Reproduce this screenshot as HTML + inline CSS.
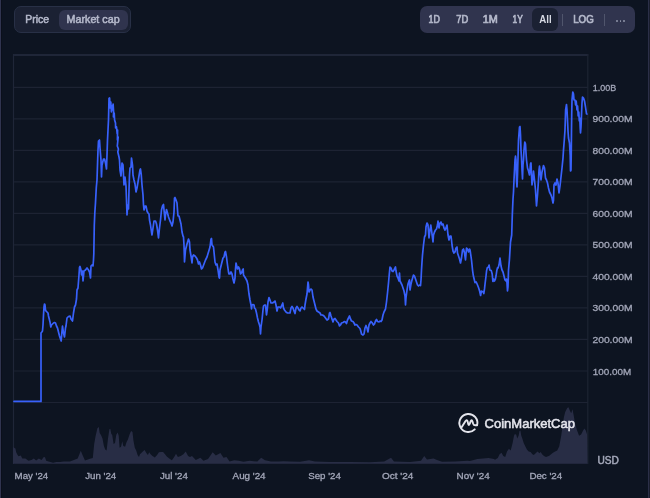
<!DOCTYPE html>
<html><head><meta charset="utf-8">
<style>
html,body{margin:0;padding:0;}
body{width:650px;height:498px;overflow:hidden;background:#0d1421;position:relative;font-family:"Liberation Sans",sans-serif;}
.abs{position:absolute;}
.grp1{left:14px;top:6px;width:115px;height:25px;border:1px solid #283046;border-radius:7px;background:#1b2133;}
.pill1{left:59px;top:10px;width:69px;height:20px;border-radius:6px;background:#30344e;}
.grp2{left:420px;top:6px;width:215px;height:27px;border-radius:7px;background:#30344e;}
.pill2{left:532px;top:8px;width:26px;height:22.5px;border-radius:6px;background:#1b2133;}
.sep{position:absolute;width:1px;height:12px;background:#50556c;top:14px;}
.dot{position:absolute;width:1.5px;height:1.5px;border-radius:1px;background:#8e93a8;top:20px;}
svg text{font-family:"Liberation Sans",sans-serif;}
</style></head>
<body>
<div class="abs" style="left:0;top:0;width:1px;height:498px;background:#30344f"></div>
<div class="abs" style="left:1px;top:0;width:1px;height:498px;background:#0b0f1b"></div>
<div class="abs" style="left:648px;top:0;width:1px;height:498px;background:#2b2f47"></div>
<div class="abs" style="left:649px;top:0;width:1px;height:498px;background:#1a1e2e"></div>
<div class="abs grp1"></div>
<div class="abs pill1"></div>
<div class="abs grp2"></div>
<div class="abs pill2"></div>
<div class="sep" style="left:562px;"></div>
<div class="sep" style="left:604px;"></div>
<div class="dot" style="left:616px;"></div>
<div class="dot" style="left:619.8px;"></div>
<div class="dot" style="left:623.4px;"></div>
<svg class="abs" style="left:0;top:0;will-change:transform" width="650" height="498" viewBox="0 0 650 498">
<line x1="13.5" y1="87.30" x2="588" y2="87.30" stroke="#1d2333" stroke-width="1.2"/>
<line x1="13.5" y1="118.82" x2="588" y2="118.82" stroke="#1d2333" stroke-width="1.2"/>
<line x1="13.5" y1="150.34" x2="588" y2="150.34" stroke="#1d2333" stroke-width="1.2"/>
<line x1="13.5" y1="181.86" x2="588" y2="181.86" stroke="#1d2333" stroke-width="1.2"/>
<line x1="13.5" y1="213.38" x2="588" y2="213.38" stroke="#1d2333" stroke-width="1.2"/>
<line x1="13.5" y1="244.90" x2="588" y2="244.90" stroke="#1d2333" stroke-width="1.2"/>
<line x1="13.5" y1="276.42" x2="588" y2="276.42" stroke="#1d2333" stroke-width="1.2"/>
<line x1="13.5" y1="307.94" x2="588" y2="307.94" stroke="#1d2333" stroke-width="1.2"/>
<line x1="13.5" y1="339.46" x2="588" y2="339.46" stroke="#1d2333" stroke-width="1.2"/>
<line x1="13.5" y1="370.98" x2="588" y2="370.98" stroke="#1d2333" stroke-width="1.2"/>
<line x1="13.5" y1="402.50" x2="588" y2="402.50" stroke="#1d2333" stroke-width="1.2"/>
<line x1="13" y1="55" x2="588.3" y2="55" stroke="#1f2638" stroke-width="1.8"/>
<line x1="13.5" y1="54" x2="13.5" y2="464" stroke="#1f2638" stroke-width="1.2"/>
<line x1="587.8" y1="54" x2="587.8" y2="464" stroke="#1d2333" stroke-width="1.2"/>
<polygon points="13,463.8 13,446.9 15.4,448.5 16.2,452.3 17.3,454.6 18.5,456.2 20.8,455.4 22.3,458.5 25.4,458.5 28.5,460.8 31.5,460 33.8,458.5 36.2,460.4 38.8,458.5 41.5,460 43.8,456.9 45,457.3 46.2,460.8 48.5,461.5 53.1,462.7 56.2,461.9 60,461.9 63.8,461.5 70,461.5 77.7,458.5 80.8,450.8 82.5,455 85,460.5 90,458.8 92.8,457.9 94.2,444 95.5,436.6 97.4,428.3 98.8,427 99.7,433 101.1,435.2 102.5,438.5 103.9,445.9 105.2,449.6 106.6,450.5 108,438.5 109.4,429.2 110.3,428.8 111.3,433.9 112.2,434.8 113.6,444 115,443.1 116.3,434.8 117.7,432.5 118.7,435.7 119.6,447.7 121,446.8 122.3,441.3 123.3,445.9 125.1,446.8 126.5,442.2 127.9,439.4 129.7,433.9 131.1,431.1 132.5,432 133.4,440.3 134.8,447.7 136.2,450.5 137.6,455.1 139,457 140,454.2 142.8,451.4 144.6,450 146.5,453.3 147.9,455.1 149.2,452.3 150.6,454.2 152.5,456 154.8,457.4 157.1,455.1 158.9,452.3 160.8,451.9 163.1,451.9 165,454.2 166.8,456.5 169.6,458.8 171.9,460.2 174.2,457 176,453.7 177.9,457 180.7,456 183.4,454.2 185.7,451.4 188.1,456 190,457 192,456 195.8,460 200.4,457.7 203.5,460.8 208,459 212.7,452.3 215.8,455.4 220.4,453 223.5,457.7 226.5,457 229.6,461.5 234.2,460.3 238.8,460.8 243.5,461.8 249.6,460.8 257.3,461.5 261.2,457.7 265,460.3 271,461.5 278.8,461.5 283.5,461.2 290,461.5 300,461.8 309,460.3 315,461.5 330,462 350,462 370,462.2 384.2,461.5 391,457.7 394,461.5 410,462 421,460.8 424.2,456 427,459.5 433.5,458.5 437,460 442,461.8 455,461.5 467.3,460.8 470,461 477.4,459 488.5,458 494,459 495,459.7 497.8,457.9 499.6,454.2 501.5,452.8 503.3,456 505.2,457 507,451.4 508.9,448.7 510.7,450.5 512.6,443.1 514,435.7 514.9,433.9 516.3,434.8 517.2,438.5 518.6,435.7 519.5,431.1 520.4,430.6 521.3,435.7 522.3,438.5 523.7,443.1 525.5,446.8 526.9,449.6 528.7,451.4 530.6,451.9 532.4,454.2 533.8,455.1 535.7,453.3 537.5,451.4 539.4,453.3 540.7,451.9 542.1,454.2 544,456 546,457 549.3,455.7 552.6,453 554.6,451.7 557.2,450.4 559.2,446.4 561.2,435.8 562.5,426.5 563.9,417.2 565.2,412 567.2,408 568.5,407.3 569.8,410.6 571.2,413.3 572.5,409.3 573.8,415.9 575.1,423.9 577.1,430.5 579.1,435.8 581.1,434.5 583.1,430.5 584.4,428.5 585.8,430.5 587.1,434.5 587.5,463.8" fill="#282d45"/>
<path d="M14,401.4 L41,401.4 L41,333 L41.8,332 L42.5,331 L43,325 L43.5,315 L44,307 L44.5,304 L45,305 L45.5,310 L46,311 L47,312 L48,313 L48.5,316 L49,318 L50,322 L50.8,327 L51.5,325 L52.5,324 L53.5,323 L54.5,322.5 L55.5,323 L56.5,326 L57.5,328 L58.5,332 L59.5,336 L60.5,339 L61.2,341 L61.8,333 L62.5,326 L63.5,333 L64.5,337 L65.5,328 L66,326 L67,318 L68.5,316.5 L70,316 L71,319 L72.5,321 L73.5,313 L74.5,307 L75.5,305 L76.5,299 L77,290 L78,288 L79,275 L79.5,267.5 L80,266.5 L81,270 L81.5,275 L82.5,271 L83,281 L84,271 L85.5,270 L87,268 L88.5,270 L89.5,272 L90.5,278 L91,266 L92,265 L93,266 L93.5,260 L93.8,254 L94.3,225 L94.8,213 L95.5,202.6 L96.3,187.5 L97,180 L97.5,165 L98,150 L98.5,141 L99.5,140 L100,148 L101,160 L101.5,177 L102,165 L103.5,159 L104.5,159 L105.5,163 L106.5,169 L107,155 L107.5,140 L108.5,120 L109,98.5 L109.6,98 L110.2,108 L110.8,102 L111.4,112 L112,106 L112.6,110 L113.1,104 L113.6,112 L113.4,117 L114.2,113 L114.6,120 L115.5,123 L115.6,128 L116.5,127 L117.2,134 L117.6,130 L117.4,140 L118.2,137 L117.3,146 L118.4,149 L117.8,152 L119,157 L119.5,160 L120,170 L121,176 L122,163 L123,165 L123.5,175 L124,185 L125,177 L126,186 L126.5,200 L127,215 L127.8,205 L128.5,209 L129,190 L129.5,175 L130,168 L131,167 L131.5,158 L132.5,165 L133,175 L134,180 L135,184 L136,192 L137,188 L138,182 L139,176 L140,170 L140.5,169 L141.2,174 L142,185 L143,195 L143.5,205 L144,210 L145,206 L146,206 L147,211 L148,213 L149,214 L149.5,220 L150.5,225 L151.5,232 L152,235 L153,228 L154,221 L155.5,221 L156.5,224 L157.5,230 L158.5,238 L159.5,228 L160.5,220 L161.5,210 L162.5,206 L163.5,204.5 L164,210 L165,220 L165.5,215 L166.5,209.5 L167.5,213 L168.5,217 L170,221 L171,223 L172,226 L173,222 L174,212 L174.5,198 L175,197.5 L176,200 L177,203 L177.5,210 L178,216 L179,216 L180,220 L181,224 L182,232 L183,236 L183.5,237 L184,245 L184.5,262 L185.5,250 L187,244 L188.5,239 L189.5,242 L190,250 L191,256 L192,263 L192.5,257 L193.5,255 L195,256 L196.5,258 L197.5,260 L198.5,264 L199.5,262 L200.5,265 L201.5,269 L202.5,268 L204,264 L205.5,260 L207,257 L208.5,252 L210,247 L211,239 L211.5,238.5 L212,245 L213.5,247 L214,252 L215,262 L216,265 L217,264 L218,270 L219,277 L219.5,278 L220,270 L221,266 L222,262 L223,258 L224,257 L225,252 L225.5,251.5 L226.5,257 L227.5,265 L228.5,272 L229,274 L230,274 L231,272 L232,274 L233,279 L234,283 L235,278 L235.5,269 L236,263 L236.5,265 L237.5,269 L238.5,267 L239.5,269 L240.5,274 L241.5,273 L242.5,270 L243.2,269 L243.5,275 L244.5,276.5 L246,279 L247,281 L248,285 L248.5,290 L249,294 L250,300 L251,305 L251.5,309 L252,305 L253,304.5 L254,305 L254.5,308 L255.5,309 L256.5,313 L257.5,318 L258.5,322 L259.5,325 L260,327 L260.5,334 L261,327 L262,320 L263,310 L263.5,306 L264.5,305 L265.5,305 L266.5,315 L267.2,310 L268,302 L269,297.5 L270,300 L271,303 L272.5,303 L274,302 L275,301 L276,305 L277,311 L278,307 L279.5,307 L280.5,308 L282,305 L282.8,303 L283.5,308 L284.5,310 L286,312 L287.5,313 L289,313 L290,313 L291,308 L292,306.5 L293,308 L294,311 L295,313.5 L296,308 L297,306.5 L298,308 L299,310 L300,311 L301,308 L302,307 L303,308 L304.5,309.5 L305,305 L306,299 L307,294 L307.5,288 L308,282 L308.5,285 L309,292 L310,290 L311,289 L312,290 L313,297 L314,301 L315,305 L316,309 L317,311 L318.5,312 L320,313 L321,315 L322.5,315 L324,316 L325.5,318 L327,320 L328.5,319 L329.5,313 L330,312.5 L331,316 L332,319 L333,322 L334,319 L335,318.5 L336,320 L337,321.5 L338.5,323 L339.5,326 L340.5,325 L341.5,323 L343,322.5 L344.5,321.5 L345.5,322 L346.5,323.5 L347.5,320 L348.5,318 L349.5,316 L350.5,319 L351.5,321 L353,321.5 L354,323 L355,325 L356,324.5 L357,325 L358.5,327 L360,328.5 L360.8,331 L361.5,334 L363,335 L364,334 L365,328 L366,325.5 L367,328 L368,332 L369,325 L370,323 L371,321.5 L372,322.5 L373.5,325 L374.5,324 L375.5,321 L376.5,319.5 L377.5,321.5 L379,322 L380,321 L381,321.5 L382,320 L383,315 L384,312 L385,310 L385.5,309 L386.5,302 L387.5,293 L388.5,283 L389.2,275 L390,267 L391,268 L392,271 L393,271.5 L394,270 L395.5,267 L396,271 L397,276 L398,278 L399,281 L399.5,273 L400,281 L401,283 L402,285 L403,288 L404,291 L405,296 L405.5,305 L406,298 L407,290 L408,284 L409,281 L409.5,280 L410,290 L411,284 L412,280 L413.5,275 L414.5,276 L415.5,279 L416.5,282 L417.5,285 L418.5,286 L419.5,285 L420.5,285.5 L421,280 L421.5,270 L422,262 L422.5,255 L423.5,245 L424.5,237 L425.5,235 L426,227 L427,223 L428,225 L429,238 L430,230 L430.8,225 L431.5,230 L432.5,238 L433,242 L433.5,235 L434.5,232 L435.5,230 L436.5,229 L437.5,225 L438,221 L439,228 L440,223 L441,222 L442,225 L443,224 L444,228 L445,230 L446,228 L447,225 L447.5,230 L448,235 L449,240 L450,236 L451,236 L451.5,240 L452,245 L453,251 L454,253 L455,252 L456,248 L457,247 L457.5,253 L458.5,256 L459.5,259 L460.5,263 L461.5,258 L462.5,250 L463.5,249 L464.5,253 L465.5,260 L466,254 L466.5,248 L467.5,249 L468.5,252 L469.5,249 L470,250 L470.5,253 L471.5,260 L472.6,270.6 L473.3,275.5 L474.3,279.8 L475,282.6 L476.1,281.9 L477.1,284 L478.5,287.5 L479.6,291 L480.6,295.5 L481.4,291 L482.1,291.7 L483.1,291.7 L483.8,293.5 L484.5,288.9 L485.2,282.6 L485.9,277 L486.6,270.6 L487.3,267.8 L488.4,267.1 L489.1,265 L489.8,269.9 L491.2,270.6 L492.2,274.1 L492.9,281.5 L493.6,279 L494.4,281 L495.4,279 L496.1,275.5 L496.8,270.6 L497.5,267.8 L498,268 L499,265 L500,258 L500.5,262 L501,266 L502,270 L503,272 L504,276 L505,280 L506,281 L506.5,279 L507,283 L507.5,291 L508,287 L508.5,270 L509.4,260 L510.5,242 L511.7,235 L512.3,215 L513,199 L513.5,192 L514,180 L514.5,170 L515,160 L515.5,156 L516,160 L516.5,180 L517,187 L517.5,175 L518,158 L518.5,140 L519.5,127 L520,126.5 L520.5,135 L521,150 L521.5,158 L522,170 L522.5,179 L523,165 L523.5,160 L524,150 L524.8,142 L525.5,144 L526,153 L526.5,160 L527.5,168 L528.5,171 L529.5,175 L530.5,164 L531,163 L531.5,175 L532,185 L533,178 L533.5,171 L534.5,180 L535.5,190 L536,198 L536.5,206 L537.5,195 L538.5,180 L539,170 L539.5,166 L540.5,175 L541,180 L542,172 L543.5,165.5 L544.5,168 L545.5,178 L546.5,180 L547.5,183 L548.5,188 L549.5,192 L551,195 L552,198 L553,203 L553.5,200 L554,185 L555,183 L556,185 L557,179 L558,183 L559,193 L560,186 L561,177 L562,168 L563,158 L563.5,150 L564.3,140 L565,130 L565.3,120 L565.6,110 L566.5,104.5 L567,110 L567.5,120 L568,131 L568.5,138 L569.5,143 L570.2,155 L570.5,171 L571,170 L571.3,150 L571.5,130 L571.7,115 L572,100 L572.8,92 L573.5,94 L574,100 L575,100 L575.6,105 L576.2,101 L577,110 L577.6,106 L578.2,116 L578.8,112 L579.3,121 L579.8,118 L580.2,128 L580.5,133 L581,127 L581.5,115 L582,103 L582.5,97 L583.5,98 L584.5,101 L585.5,107 L586.5,114 L587,114" fill="none" stroke="#3861fb" stroke-width="1.7" stroke-linejoin="round" stroke-linecap="round"/>
<g fill="none" stroke="#e4e5ec" stroke-width="1.9" stroke-linecap="round" stroke-linejoin="round">
<path d="M474.76,429.36 A9,9 0 1 1 477.09,425.33"/>
<path d="M461.6,427.3 L465.4,421.2 Q466.8,418.9 467.6,421.4 L468.2,423.9 Q468.9,426.2 469.7,423.8 L470.6,421.4 Q471.6,418.9 472.5,421.6 L473.2,423.8 Q473.9,425.8 476.2,425.2 L477.09,425.0"/>
</g>
<text x="592.80" y="90.85" font-size="9.6" font-weight="normal" fill="#a3a7b9" stroke="#a3a7b9" stroke-width="0.3" textLength="23.40" lengthAdjust="spacingAndGlyphs">1.00B</text>
<text x="592.40" y="122.37" font-size="9.6" font-weight="normal" fill="#a3a7b9" stroke="#a3a7b9" stroke-width="0.3" textLength="40.20" lengthAdjust="spacingAndGlyphs">900.00M</text>
<text x="592.40" y="153.89" font-size="9.6" font-weight="normal" fill="#a3a7b9" stroke="#a3a7b9" stroke-width="0.3" textLength="40.20" lengthAdjust="spacingAndGlyphs">800.00M</text>
<text x="592.40" y="185.41" font-size="9.6" font-weight="normal" fill="#a3a7b9" stroke="#a3a7b9" stroke-width="0.3" textLength="40.20" lengthAdjust="spacingAndGlyphs">700.00M</text>
<text x="592.40" y="216.93" font-size="9.6" font-weight="normal" fill="#a3a7b9" stroke="#a3a7b9" stroke-width="0.3" textLength="40.20" lengthAdjust="spacingAndGlyphs">600.00M</text>
<text x="592.40" y="248.45" font-size="9.6" font-weight="normal" fill="#a3a7b9" stroke="#a3a7b9" stroke-width="0.3" textLength="40.20" lengthAdjust="spacingAndGlyphs">500.00M</text>
<text x="592.40" y="279.97" font-size="9.6" font-weight="normal" fill="#a3a7b9" stroke="#a3a7b9" stroke-width="0.3" textLength="40.20" lengthAdjust="spacingAndGlyphs">400.00M</text>
<text x="592.40" y="311.49" font-size="9.6" font-weight="normal" fill="#a3a7b9" stroke="#a3a7b9" stroke-width="0.3" textLength="40.20" lengthAdjust="spacingAndGlyphs">300.00M</text>
<text x="592.40" y="343.01" font-size="9.6" font-weight="normal" fill="#a3a7b9" stroke="#a3a7b9" stroke-width="0.3" textLength="40.20" lengthAdjust="spacingAndGlyphs">200.00M</text>
<text x="592.80" y="374.53" font-size="9.6" font-weight="normal" fill="#a3a7b9" stroke="#a3a7b9" stroke-width="0.3" textLength="38.40" lengthAdjust="spacingAndGlyphs">100.00M</text>
<text x="14.60" y="479.2" font-size="9.3" font-weight="normal" fill="#a3a7b9" stroke="#a3a7b9" stroke-width="0.3" textLength="33.60" lengthAdjust="spacingAndGlyphs">May &#39;24</text>
<text x="85.20" y="479.2" font-size="9.3" font-weight="normal" fill="#a3a7b9" stroke="#a3a7b9" stroke-width="0.3" textLength="31.00" lengthAdjust="spacingAndGlyphs">Jun &#39;24</text>
<text x="160.00" y="479.2" font-size="9.3" font-weight="normal" fill="#a3a7b9" stroke="#a3a7b9" stroke-width="0.3" textLength="27.80" lengthAdjust="spacingAndGlyphs">Jul &#39;24</text>
<text x="232.60" y="479.2" font-size="9.3" font-weight="normal" fill="#a3a7b9" stroke="#a3a7b9" stroke-width="0.3" textLength="33.00" lengthAdjust="spacingAndGlyphs">Aug &#39;24</text>
<text x="308.20" y="479.2" font-size="9.3" font-weight="normal" fill="#a3a7b9" stroke="#a3a7b9" stroke-width="0.3" textLength="32.60" lengthAdjust="spacingAndGlyphs">Sep &#39;24</text>
<text x="382.00" y="479.2" font-size="9.3" font-weight="normal" fill="#a3a7b9" stroke="#a3a7b9" stroke-width="0.3" textLength="31.40" lengthAdjust="spacingAndGlyphs">Oct &#39;24</text>
<text x="456.60" y="479.2" font-size="9.3" font-weight="normal" fill="#a3a7b9" stroke="#a3a7b9" stroke-width="0.3" textLength="33.00" lengthAdjust="spacingAndGlyphs">Nov &#39;24</text>
<text x="529.40" y="479.2" font-size="9.3" font-weight="normal" fill="#a3a7b9" stroke="#a3a7b9" stroke-width="0.3" textLength="32.80" lengthAdjust="spacingAndGlyphs">Dec &#39;24</text>
<text x="25.20" y="23.2" font-size="10" font-weight="normal" fill="#b5b9cb" stroke="#b5b9cb" stroke-width="0.5" textLength="23.80" lengthAdjust="spacingAndGlyphs">Price</text>
<text x="66.60" y="23.2" font-size="10" font-weight="normal" fill="#b5b9cb" stroke="#b5b9cb" stroke-width="0.5" textLength="53.00" lengthAdjust="spacingAndGlyphs">Market cap</text>
<text x="428.60" y="23.3" font-size="10" font-weight="normal" fill="#b5b9cb" stroke="#b5b9cb" stroke-width="0.65" textLength="11.40" lengthAdjust="spacingAndGlyphs">1D</text>
<text x="456.20" y="23.3" font-size="10" font-weight="normal" fill="#b5b9cb" stroke="#b5b9cb" stroke-width="0.65" textLength="12.00" lengthAdjust="spacingAndGlyphs">7D</text>
<text x="482.80" y="23.3" font-size="10" font-weight="normal" fill="#b5b9cb" stroke="#b5b9cb" stroke-width="0.65" textLength="15.00" lengthAdjust="spacingAndGlyphs">1M</text>
<text x="512.60" y="23.3" font-size="10" font-weight="normal" fill="#b5b9cb" stroke="#b5b9cb" stroke-width="0.65" textLength="10.20" lengthAdjust="spacingAndGlyphs">1Y</text>
<text x="539.20" y="23.3" font-size="10" font-weight="bold" fill="#d6d9e3" textLength="12.40" lengthAdjust="spacingAndGlyphs">All</text>
<text x="573.20" y="23.3" font-size="10" font-weight="normal" fill="#b5b9cb" stroke="#b5b9cb" stroke-width="0.65" textLength="20.60" lengthAdjust="spacingAndGlyphs">LOG</text>
<text x="597.40" y="464.1" font-size="10" font-weight="normal" fill="#a3a7b9" stroke="#a3a7b9" stroke-width="0.5" textLength="21.40" lengthAdjust="spacingAndGlyphs">USD</text>
<text x="484.60" y="427.8" font-size="12.4" font-weight="normal" fill="#e4e5ec" stroke="#e4e5ec" stroke-width="0.5" textLength="90.40" lengthAdjust="spacingAndGlyphs">CoinMarketCap</text>
</svg>
</body></html>
